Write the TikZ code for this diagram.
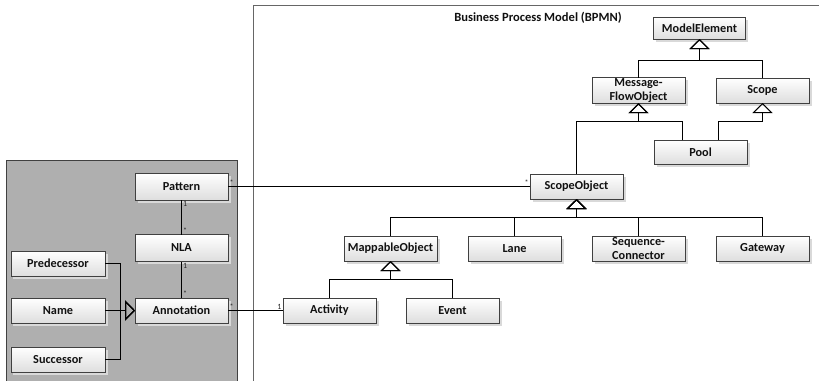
\documentclass[tikz,border=0pt]{standalone}
\usepackage{fontspec}
\setmainfont{Carlito}
\usetikzlibrary{arrows.meta,shadows}

\definecolor{panelgray}{HTML}{AFAFAF}
\definecolor{edgegray}{HTML}{404040}
\definecolor{inkgray}{HTML}{111111}

\tikzset{
  cls/.style={draw=edgegray, line width=0.9bp, top color=white, bottom color=black!13,
    minimum width=93bp, minimum height=25bp, inner sep=1bp, outer sep=0pt, align=center,
    text=inkgray, font=\bfseries\fontsize{12.3}{13.5}\selectfont,
    drop shadow={shadow xshift=2.5bp, shadow yshift=-2.5bp, fill=black!15, opacity=1}},
  link/.style={draw=black, line width=1bp},
  gen/.style={link, -{Triangle[open, length=10bp, width=20bp, line width=1bp]}},
  mult/.style={font=\fontsize{8}{8}\selectfont, text=black!85, inner sep=1bp}
}

\begin{document}
\begin{tikzpicture}[x=1bp, y=-1bp]
\useasboundingbox (0,0) rectangle (819,380);

% package frames
\fill[panelgray] (6,160) rectangle (238,395);
\draw[edgegray, line width=1.2bp] (6.5,395) -- (6.5,160.5) -- (237.5,160.5) -- (237.5,395);
\draw[black!60, line width=1.2bp] (253.5,395) -- (253.5,5.5) -- (830,5.5);
\node[font=\bfseries\fontsize{12.6}{13}\selectfont, text=inkgray] (title) at (538,17.5) {Business Process Model (BPMN)};

% bar levels of the generalisation trees
\coordinate (meBar) at (0,60.5);
\coordinate (mfoBar) at (0,121.5);
\coordinate (soBar) at (0,217.5);
\coordinate (moBar) at (0,279.5);
\coordinate (annBar) at (120.5,0);

% annotation model
\node[cls, minimum height=27bp] (pattern) at (181.5,186.5) {Pattern};
\node[cls, minimum height=27bp] (nla) at (181.5,248) {NLA};
\node[cls] (annotation) at (181.5,310.5) {Annotation};
\node[cls, minimum width=94bp] (pred) at (58,263.5) {Predecessor};
\node[cls, minimum width=94bp] (name) at (58,310.5) {Name};
\node[cls, minimum width=94bp] (succ) at (58,359.5) {Successor};

% BPMN classes
\node[cls, minimum width=92bp, minimum height=22bp] (modelelement) at (699.5,28) {ModelElement};
\node[cls] (mfo) at (638.5,90.5) {Message-\\FlowObject};
\node[cls] (scope) at (762.5,90.5) {Scope};
\node[cls, minimum height=24bp] (pool) at (700.5,152) {Pool};
\node[cls] (scopeobject) at (576.5,186.5) {ScopeObject};
\node[cls] (mappable) at (390.5,248.5) {MappableObject};
\node[cls] (lane) at (514.5,248.5) {Lane};
\node[cls] (seqconn) at (638.5,248.5) {Sequence-\\Connector};
\node[cls] (gateway) at (762.5,248.5) {Gateway};
\node[cls] (activity) at (329.5,310.5) {Activity};
\node[cls] (event) at (452.5,310.5) {Event};

% generalisations
\draw[gen] (mfo.north) -- (mfo.north |- meBar) -| (modelelement.south);
\draw[gen] (scope.north) -- (scope.north |- meBar) -| (modelelement.south);
\draw[gen] (scopeobject.north) -- (scopeobject.north |- mfoBar) -| (mfo.south);
\draw[gen] ([xshift=-18bp]pool.north) coordinate (poolL) -- (poolL |- mfoBar) -| (mfo.south);
\draw[gen] ([xshift=18bp]pool.north) coordinate (poolR) -- (poolR |- mfoBar) -| (scope.south);
\draw[gen] (mappable.north) -- (mappable.north |- soBar) -| (scopeobject.south);
\draw[gen] (lane.north) -- (lane.north |- soBar) -| (scopeobject.south);
\draw[gen] (seqconn.north) -- (seqconn.north |- soBar) -| (scopeobject.south);
\draw[gen] (gateway.north) -- (gateway.north |- soBar) -| (scopeobject.south);
\draw[gen] (activity.north) -- (activity.north |- moBar) -| (mappable.south);
\draw[gen] (event.north) -- (event.north |- moBar) -| (mappable.south);
\draw[gen] (pred.east) -- (pred.east -| annBar) |- (annotation.west);
\draw[gen] (succ.east) -- (succ.east -| annBar) |- (annotation.west);
\draw[gen] (name.east) -- (annotation.west);

% associations
\draw[link] (pattern.east) -- (scopeobject.west)
  node[mult, pos=0, above right] {*} node[mult, pos=1, above left] {*};
\draw[link] (pattern.south) -- (nla.north)
  node[mult, pos=0, below right] {1} node[mult, pos=1, above right] {*};
\draw[link] (nla.south) -- (annotation.north)
  node[mult, pos=0, below right] {1} node[mult, pos=1, above right] {*};
\draw[link] (annotation.east) -- (activity.west)
  node[mult, pos=0, above right] {*} node[mult, pos=1, above left] {1};
\end{tikzpicture}
\end{document}
